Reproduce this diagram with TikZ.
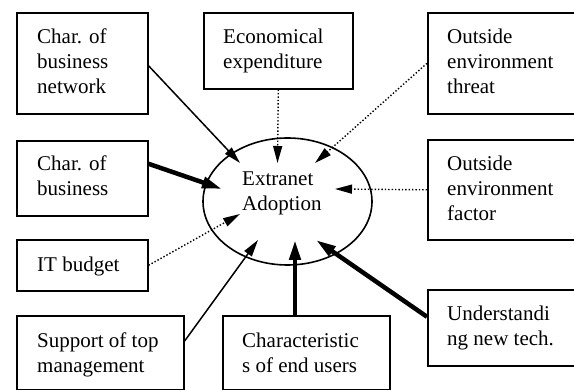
\documentclass[tikz,border=0pt]{standalone}
\usepackage{fontspec}
\setmainfont{Liberation Serif}
\usetikzlibrary{arrows.meta,calc,shapes.geometric}
\tikzset{
  box/.style={draw, line width=1.6pt, rectangle, inner sep=0pt, anchor=north west},
  txt/.style={inner sep=0pt, anchor=north west, align=left, font=\fontsize{21}{25}\selectfont},
  thinarr/.style={line width=1.5pt, -{Triangle[length=17pt,width=9pt]}},
  thickarr/.style={line width=4.5pt, -{Triangle[length=20pt,width=11pt]}},
  dotarr/.style={line width=1.4pt, dotted, -{Triangle[length=17pt,width=9pt]}},
}
\newcommand{\bx}[5]{\node[box, minimum width=#3pt-#1pt, minimum height=#4pt-#2pt] (#5) at (#1,#2) {};}
\begin{document}
\begin{tikzpicture}[x=1pt,y=-1pt]
\useasboundingbox (0,0) rectangle (574,390);
% boxes
\bx{16}{12}{147}{113}{b1}
\bx{203}{12}{352}{88}{b2}
\bx{427}{12}{590}{113}{b3}
\bx{16}{140}{147}{215}{b4}
\bx{427}{139}{590}{239}{b5}
\bx{16}{239}{147}{290}{b6}
\bx{16}{315}{183}{389.5}{b7}
\bx{222}{315}{389}{389.5}{b8}
\bx{427}{289}{590}{365}{b9}
% ellipse
\node[draw, ellipse, line width=1.6pt, minimum width=169pt, minimum height=127pt, inner sep=0pt] (e) at (287.5,201.5) {};
% texts
\node[txt] (t1) at (37,25.5) {\strut Char. of\\business\\network};
\node[txt] (t2) at (223,25.5) {\strut Economical\\expenditure};
\node[txt] (t3) at (447,25.5) {\strut Outside\\environment\\threat};
\node[txt] (t4) at (37,152.5) {\strut Char. of\\business};
\node[txt] (t5) at (447,152.5) {\strut Outside\\environment\\factor};
\node[txt] (t6) at (37,253.5) {\strut IT budget};
\node[txt] (t7) at (37,329.5) {\strut Support of top\\management};
\node[txt] (t8) at (242,329.5) {\strut Characteristic\\s of end users};
\node[txt] (t9) at (447,302.5) {\strut Understandi\\ng new tech.};
\node[txt] (te) at (242,167.5) {\strut Extranet\\Adoption};
% tips
\coordinate (p1) at (240,163);
\coordinate (p2) at (277.5,163);
\coordinate (p3) at (315,163);
\coordinate (p4) at (222,189);
\coordinate (p5) at (335,189);
\coordinate (p6) at (240,214);
\coordinate (p7) at (258,240);
\coordinate (p8) at (295,240);
\coordinate (p9) at (316,240);
% connectors
\draw[thinarr] ([yshift=-2.5pt]b1.east) -- (p1);
\draw[dotarr] (b2.south) -- (p2);
\draw[dotarr] (b3.west) -- (p3);
\draw[thickarr] ([yshift=14.5pt]b4.east) -- (p4);
\draw[dotarr] (b5.west) -- (p5);
\draw[dotarr] (b6.east) -- (p6);
\draw[thinarr] ([yshift=12pt]b7.east) -- (p7);
\draw[thickarr] (b8.north -| p8) -- (p8);
\draw[thickarr] ([yshift=11pt]b9.west) -- (p9);
\end{tikzpicture}
\end{document}
